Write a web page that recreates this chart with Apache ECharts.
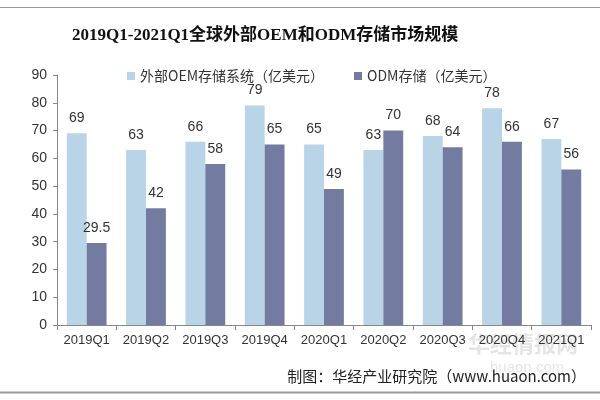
<!DOCTYPE html>
<html><head><meta charset="utf-8">
<script src="https://cdn.jsdelivr.net/npm/echarts@6/dist/echarts.min.js"></script>
<style>html,body{margin:0;padding:0;background:#fff}#c{width:600px;height:400px}</style>
</head><body><div id="c"></div>
<script>
const categories = ['2019Q1','2019Q2','2019Q3','2019Q4','2020Q1','2020Q2','2020Q3','2020Q4','2021Q1'];
const oemValues = [69, 63, 66, 79, 65, 63, 68, 78, 67];
const odmValues = [29.5, 42, 58, 65, 49, 70, 64, 66, 56];
const seriesNames = ['外部OEM存储系统（亿美元）', 'ODM存储（亿美元）'];
const yTicks = [0, 10, 20, 30, 40, 50, 60, 70, 80, 90];
const titleText = '2019Q1-2021Q1全球外部OEM和ODM存储市场规模';
const sourceText = '制图：华经产业研究院（www.huaon.com）';

const chart = echarts.init(document.getElementById('c'), null, {renderer:'canvas'});
const labelStyle = {show:true, position:'top', distance:8, color:'#333', fontSize:14, fontFamily:'Liberation Sans, Arial, sans-serif'};
chart.setOption({
  animation:false,
  backgroundColor:'#fff',
  title:{text:titleText, left:67, top:22, textStyle:{fontFamily:'Liberation Serif, Noto Sans CJK SC, serif', fontWeight:'bold', fontSize:17, color:'#111'}},
  legend:{top:64, left:122, itemWidth:8, itemHeight:8, itemGap:30, icon:'rect',
    textStyle:{fontSize:14, color:'#333', fontFamily:'Noto Sans CJK SC, sans-serif'}},
  grid:{left:57, right:9, top:75, bottom:75},
  xAxis:{type:'category', data:categories,
    axisLine:{lineStyle:{color:'#888'}},
    axisTick:{show:true, length:5, lineStyle:{color:'#888'}},
    axisLabel:{interval:0, color:'#333', fontSize:13, margin:9, fontFamily:'Liberation Sans, Arial, sans-serif'}},
  yAxis:{type:'value', min:yTicks[0], max:yTicks[yTicks.length-1], interval:10,
    axisLine:{show:true, lineStyle:{color:'#888'}},
    axisTick:{show:true, length:4, lineStyle:{color:'#888'}},
    splitLine:{show:false},
    axisLabel:{color:'#333', fontSize:14, margin:10, fontFamily:'Liberation Sans, Arial, sans-serif'}},
  series:[
    {name:seriesNames[0], type:'bar', data:oemValues, barGap:'0%', barCategoryGap:'33%', itemStyle:{color:'#b9d4e6'}, label:labelStyle},
    {name:seriesNames[1], type:'bar', data:odmValues, itemStyle:{color:'#737ca0'}, label:labelStyle}
  ],
  graphic:[
    {type:'line', shape:{x1:0,y1:7.5,x2:600,y2:7.5}, style:{stroke:'#999', lineWidth:1}},
    {type:'line', shape:{x1:0,y1:392.5,x2:600,y2:392.5}, style:{stroke:'#999', lineWidth:2}},
    {type:'text', right:14, top:369, style:{text:sourceText, fontSize:15, fill:'#222', fontFamily:'Noto Sans CJK SC, sans-serif'}},
    {type:'text', left:468, top:333, style:{text:'华经情报网', fontSize:22, fontWeight:'bold', fill:'rgba(180,180,180,0.35)', fontFamily:'Noto Sans CJK SC, sans-serif'}},
    {type:'text', left:490, top:360, style:{text:'huaon.com', fontSize:15, fill:'rgba(180,180,180,0.35)', fontFamily:'Liberation Sans, sans-serif'}}
  ]
});
</script></body></html>
